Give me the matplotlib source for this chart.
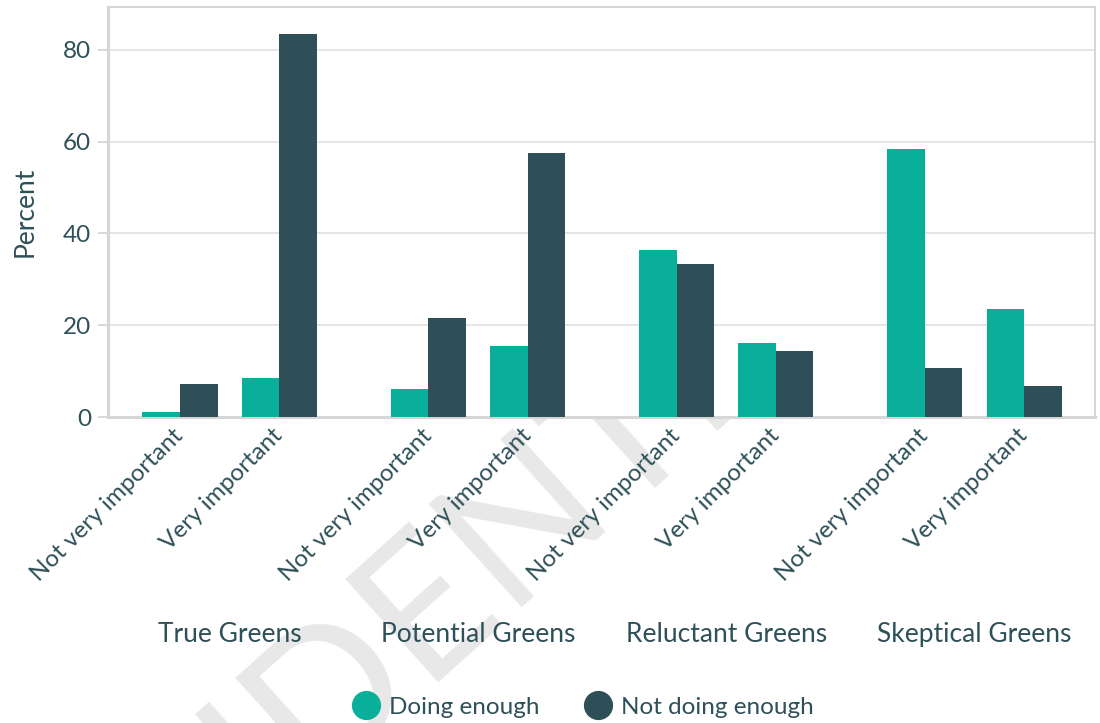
import matplotlib
matplotlib.use("Agg")
import matplotlib.pyplot as plt
from matplotlib.lines import Line2D
import numpy as np

# Data
groups = ["True Greens", "Potential Greens", "Reluctant Greens", "Skeptical Greens"]
importance = ["Not very important", "Very important"]
doing_enough = [1.2, 8.4, 6.0, 15.4, 36.3, 16.1, 58.3, 23.5]
not_doing_enough = [7.1, 83.4, 21.5, 57.4, 33.3, 14.3, 10.6, 6.7]
series_names = ["Doing enough", "Not doing enough"]
y_ticks = [0, 20, 40, 60, 80]

TEAL = "#0aaf9a"
DARK = "#2e4f57"
TEXT = "#2e5058"
GRID = "#e3e3e3"
SPINE = "#d6d6d6"

plt.rcParams["font.family"] = ["Lato", "DejaVu Sans"]

fig = plt.figure(figsize=(11, 7.23), dpi=100)
fig.patch.set_facecolor("white")

# faint watermark behind everything
fig.text(0.323, 0.067, "CONFIDENTIAL", fontsize=140, color="#e8e8e8",
         rotation=42, ha="center", va="center", zorder=0,
         rotation_mode="anchor")

ax = fig.add_axes([0.0982, 0.4232, 0.8973, 0.5671], zorder=2)
ax.set_facecolor("white")

# bar positions: pairs within each group, wider gap between groups
n_sub = len(importance)
positions = np.array([g * 2.5 + j for g in range(len(groups)) for j in range(n_sub)], dtype=float)
w = 0.378

ax.bar(positions - w / 2, doing_enough, width=w, color=TEAL, zorder=3, linewidth=0)
ax.bar(positions + w / 2, not_doing_enough, width=w, color=DARK, zorder=3, linewidth=0)

ax.set_xlim(-0.725, 9.215)
ax.set_ylim(0, 89.3)
ax.set_yticks(y_ticks)
ax.set_yticklabels([str(t) for t in y_ticks], fontsize=17.5, color=TEXT)
ax.yaxis.grid(True, color=GRID, linewidth=1.3, zorder=0)
ax.set_axisbelow(True)
ax.tick_params(axis="y", length=7, width=1.3, color=SPINE, pad=5)
ax.tick_params(axis="x", length=0, pad=11)

ax.set_xticks(positions)
ax.set_xticklabels([importance[i % n_sub] for i in range(len(positions))],
                   rotation=45, ha="right", va="center", rotation_mode="anchor",
                   fontsize=17.5, color=TEXT)

for side, sp in ax.spines.items():
    sp.set_color(SPINE)
    sp.set_linewidth(1.5)
ax.spines["bottom"].set_linewidth(2.2)
ax.spines["left"].set_linewidth(2.2)

ax.set_ylabel("Percent", fontsize=19, color=TEXT, labelpad=18)

# group labels centred under each pair
for g, name in enumerate(groups):
    cx = positions[g * n_sub: (g + 1) * n_sub].mean()
    ax.text(cx, -0.53, name, transform=ax.get_xaxis_transform(),
            ha="center", va="center", fontsize=19, color=TEXT)

handles = [Line2D([], [], marker="o", linestyle="none", markersize=20,
                  markerfacecolor=c, markeredgecolor=c) for c in (TEAL, DARK)]
fig.legend(handles, series_names, loc="center", bbox_to_anchor=(0.531, 0.022),
           ncol=2, frameon=False, fontsize=17.5, handletextpad=0.45,
           columnspacing=1.9, labelcolor=TEXT, handlelength=1.0)

fig.savefig("out.png", dpi=100, facecolor="white")
